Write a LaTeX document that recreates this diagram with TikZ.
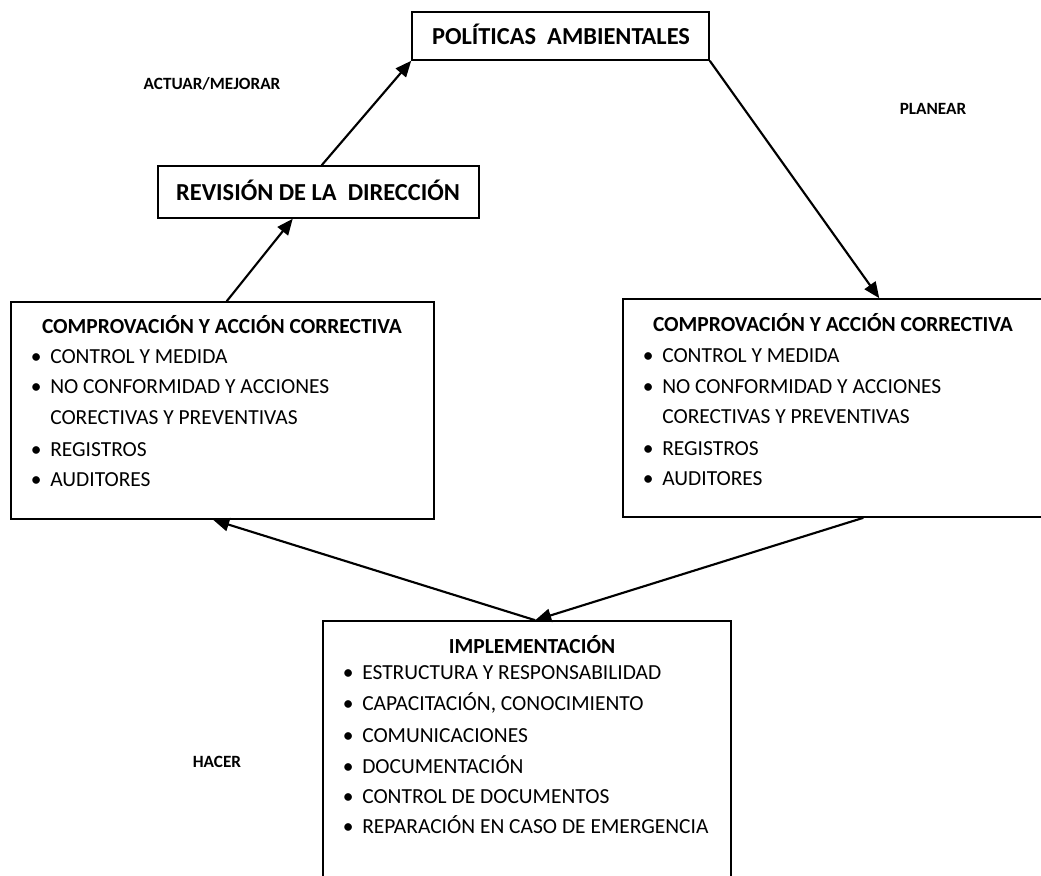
\documentclass[tikz,border=0pt]{standalone}
\usepackage{fontspec}
\setmainfont{Carlito}
\usetikzlibrary{fit,calc,arrows.meta}
\begin{document}
\begin{tikzpicture}[x=0.75pt,y=-0.75pt,
  box/.style={draw, line width=1.2pt, inner sep=0pt, fit={#1}},
  arr/.style={line width=1.6pt, -{Triangle[length=12pt,width=10pt]}},
  title/.style={anchor=base, inner sep=0pt, font=\bfseries\fontsize{18.3}{20}\selectfont},
  head/.style={anchor=base, inner sep=0pt, font=\bfseries\fontsize{16.1}{18}\selectfont},
  item/.style={anchor=base west, inner sep=0pt, font=\fontsize{16.1}{18}\selectfont},
  lbl/.style={anchor=base, inner sep=0pt, font=\bfseries\fontsize{12.9}{15}\selectfont}]
\useasboundingbox (0,0) rectangle (1041,875);
\newcommand{\bul}{\llap{•\hspace{6.5pt}}}
% boxes
\node[box={(412,12)(709,60)}] (pol) {};
\node[box={(158,166)(479,218)}] (rev) {};
\node[box={(11,302)(434,519)}] (lb) {};
\node[box={(623,299)(1052,517)}] (rb) {};
\node[box={(323,621)(731,900)}] (imp) {};
% titles
\node[title] (polt) at (561,44) {POLÍTICAS\ \ AMBIENTALES};
\node[title] (revt) at (318,200) {REVISIÓN DE LA\ \ DIRECCIÓN};
% left box
\node[head] (lbh) at (222,333) {COMPROVACIÓN Y ACCIÓN CORRECTIVA};
\node[item] (lb1) at (50,363) {\bul CONTROL Y MEDIDA};
\node[item] (lb2) at (50,393) {\bul NO CONFORMIDAD Y ACCIONES};
\node[item] (lb3) at (50,424) {CORECTIVAS Y PREVENTIVAS};
\node[item] (lb4) at (50,456) {\bul REGISTROS};
\node[item] (lb5) at (50,486) {\bul AUDITORES};
% right box
\node[head] (rbh) at (833,331) {COMPROVACIÓN Y ACCIÓN CORRECTIVA};
\node[item] (rb1) at (662,362) {\bul CONTROL Y MEDIDA};
\node[item] (rb2) at (662,393) {\bul NO CONFORMIDAD Y ACCIONES};
\node[item] (rb3) at (662,423) {CORECTIVAS Y PREVENTIVAS};
\node[item] (rb4) at (662,455) {\bul REGISTROS};
\node[item] (rb5) at (662,485) {\bul AUDITORES};
% implementation
\node[head] (imph) at (532,653) {IMPLEMENTACIÓN};
\node[item] (imp1) at (362,679) {\bul ESTRUCTURA Y RESPONSABILIDAD};
\node[item] (imp2) at (362,710) {\bul CAPACITACIÓN, CONOCIMIENTO};
\node[item] (imp3) at (362,742) {\bul COMUNICACIONES};
\node[item] (imp4) at (362,773) {\bul DOCUMENTACIÓN};
\node[item] (imp5) at (362,803) {\bul CONTROL DE DOCUMENTOS};
\node[item] (imp6) at (362,833) {\bul REPARACIÓN EN CASO DE EMERGENCIA};
% labels
\node[lbl] (act) at (212,89) {ACTUAR/MEJORAR};
\node[lbl] (pla) at (933,114) {PLANEAR};
\node[lbl] (hac) at (217,767) {HACER};
% connectors
\draw[arr] ($(rev.north west)!0.51!(rev.north east)$) -- (pol.south west);
\draw[arr] ($(lb.north west)!0.51!(lb.north east)$) -- ($(rev.south west)!0.42!(rev.south east)$);
\draw[arr] (pol.south east) -- ($(rb.north west)!0.597!(rb.north east)$);
\draw[arr] ($(rb.south west)!0.56!(rb.south east)$) -- ($(imp.north west)!0.52!(imp.north east)$);
\draw[arr] ($(imp.north west)!0.52!(imp.north east)$) -- ($(lb.south west)!0.478!(lb.south east)$);
\end{tikzpicture}
\end{document}
